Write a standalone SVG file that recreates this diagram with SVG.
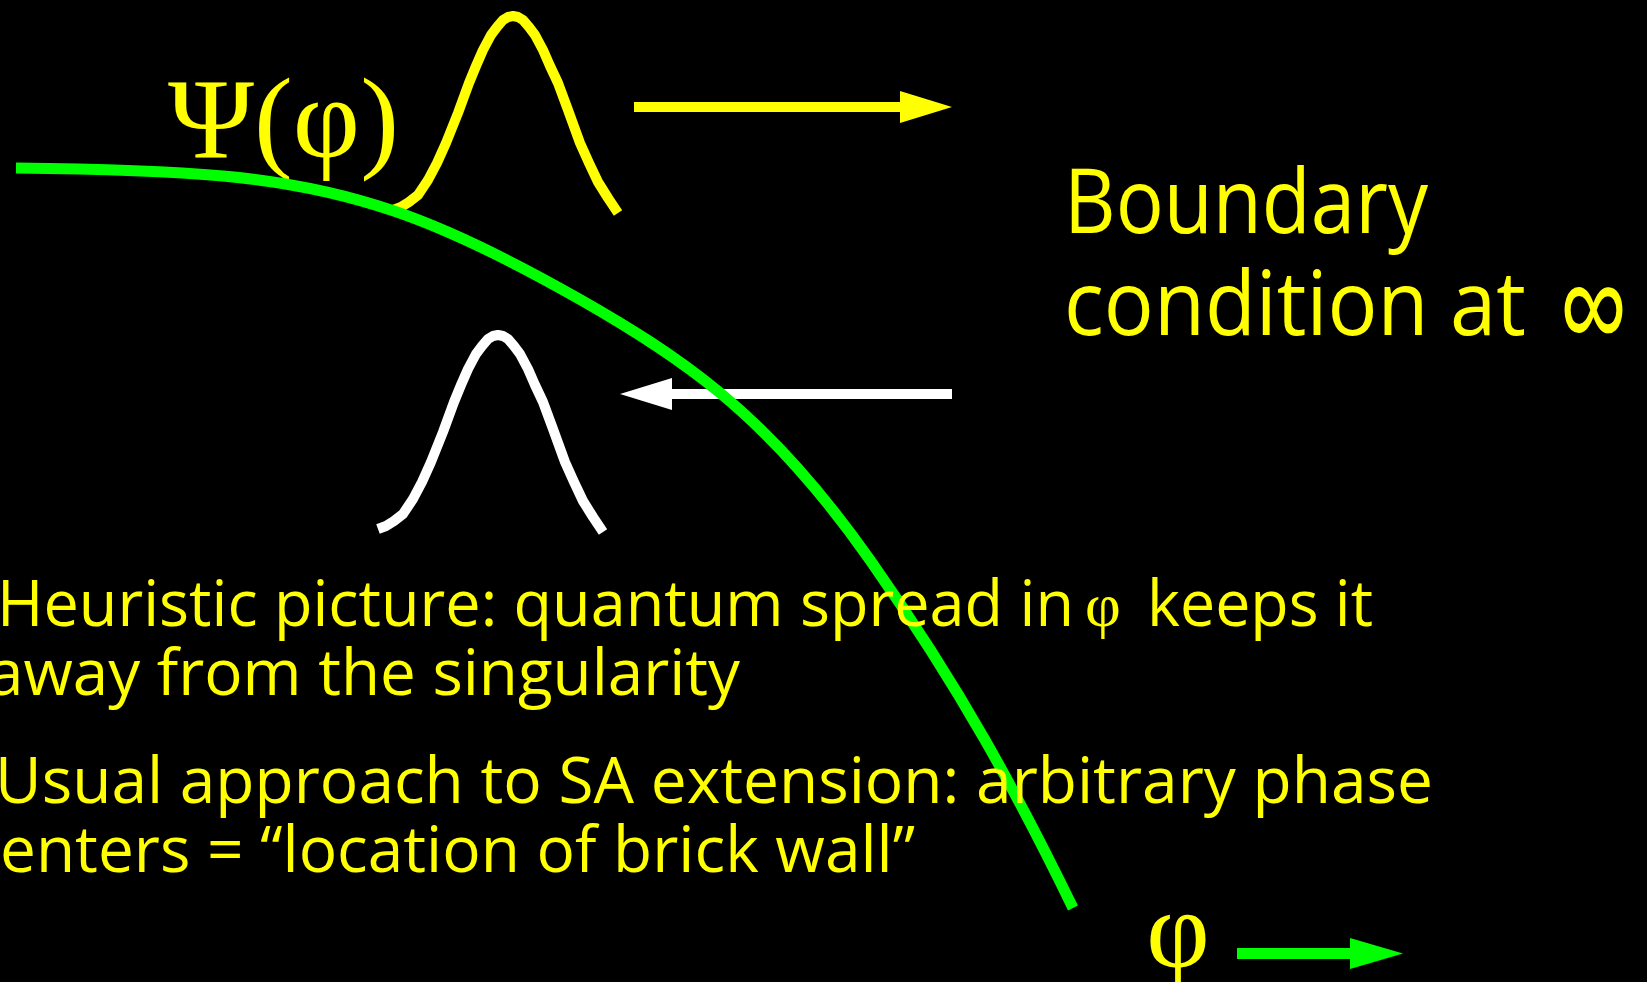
<svg xmlns="http://www.w3.org/2000/svg" xmlns:xlink="http://www.w3.org/1999/xlink" width="1647" height="982" viewBox="0 0 1647 982">
  <style>
    .serif { font-family: "Liberation Serif", "Times New Roman", serif; fill: #FFFF00; }
    .sans { font-family: "Open Sans", "DejaVu Sans", sans-serif; fill: #FFFF00; }
    .body { font-size: 64px; }
    .big { font-size: 90px; }
    .wave { fill: none; stroke-width: 10; stroke-linejoin: round; stroke-linecap: butt; }
    .shaft { fill: none; stroke-width: 10; stroke-linecap: butt; }
  </style>
  <defs>
    <polyline id="gauss" points="393,210 401,207 409,202 418,195 428,180 437,163 446,143 458,113 469,83 476,66 483,50 491,35 497,27 503,20 508,17 513,16 518,17 523,20 529,27 535,35 543,50 550,66 558,83 568,110 580,143 589,163 598,182 608,198 618,213"/>
    <marker id="ah-y" markerUnits="userSpaceOnUse" viewBox="0 0 52 32" markerWidth="52" markerHeight="32" refX="0" refY="16" orient="auto">
      <path d="M0,0 L52,16 L0,32 Z" fill="#FFFF00"/>
    </marker>
    <marker id="ah-w" markerUnits="userSpaceOnUse" viewBox="0 0 52 32" markerWidth="52" markerHeight="32" refX="0" refY="16" orient="auto">
      <path d="M0,0 L52,16 L0,32 Z" fill="#FFFFFF"/>
    </marker>
    <marker id="ah-g" markerUnits="userSpaceOnUse" viewBox="0 0 53 31" markerWidth="53" markerHeight="31" refX="0" refY="15.5" orient="auto">
      <path d="M0,0 L53,15.5 L0,31 Z" fill="#00FF00"/>
    </marker>
  </defs>

  <rect x="0" y="0" width="1647" height="982" fill="#000000"/>

  <g id="psi-label">
    <text class="serif" x="168" y="157" font-size="115" textLength="231" lengthAdjust="spacingAndGlyphs">Ψ(φ)</text>
  </g>

  <g id="wavepacket-outgoing">
    <use xlink:href="#gauss" href="#gauss" class="wave" stroke="#FFFF00"/>
  </g>

  <g id="wavepacket-reflected">
    <use xlink:href="#gauss" href="#gauss" class="wave" stroke="#FFFFFF" transform="translate(-15,319)"/>
  </g>

  <g id="connectors">
    <line class="shaft" x1="634" y1="107" x2="900" y2="107" stroke="#FFFF00" marker-end="url(#ah-y)"/>
    <line class="shaft" x1="952" y1="394" x2="672" y2="394" stroke="#FFFFFF" marker-end="url(#ah-w)"/>
    <line x1="1237" y1="953.5" x2="1350" y2="953.5" stroke="#00FF00" stroke-width="11" marker-end="url(#ah-g)"/>
  </g>

  <g id="potential-curve">
    <path d="M16,168 C85,168.7 154,169.8 223,176 C280,181.1 337,191.6 394,211 C456.3,232.2 518.7,264.5 581,300 C627,326.2 673,354.3 719,392 C769.3,433.3 819.7,488.5 870,560 C908.3,614.4 946.7,673 985,740 C1014.3,791.3 1043.7,847.9 1073,908" fill="none" stroke="#00FF00" stroke-width="11" stroke-linecap="butt"/>
  </g>

  <g id="boundary-label">
    <text class="sans big" x="1064" y="233" textLength="364" lengthAdjust="spacingAndGlyphs">Boundary</text>
    <text class="sans big" y="335"><tspan x="1064" textLength="462" lengthAdjust="spacingAndGlyphs">condition at</tspan> <tspan x="1559" dy="28" font-size="150" textLength="69" lengthAdjust="spacingAndGlyphs">∞</tspan></text>
  </g>

  <g id="heuristic-text">
    <text class="sans body" y="626"><tspan x="-3" textLength="1077" lengthAdjust="spacingAndGlyphs">Heuristic picture: quantum spread in</tspan> <tspan class="serif" x="1085" font-size="62">φ</tspan> <tspan x="1147" textLength="226" lengthAdjust="spacingAndGlyphs">keeps it</tspan></text>
    <text class="sans body" x="-12" y="695" textLength="752" lengthAdjust="spacingAndGlyphs">away from the singularity</text>
  </g>

  <g id="usual-text">
    <text class="sans body" x="-5" y="803" textLength="1438" lengthAdjust="spacingAndGlyphs">Usual approach to SA extension: arbitrary phase</text>
    <text class="sans body" x="0" y="872" textLength="915" lengthAdjust="spacingAndGlyphs">enters = “location of brick wall”</text>
  </g>

  <g id="phi-axis">
    <text class="serif" x="1178" y="967" font-size="110" text-anchor="middle">φ</text>
  </g>
</svg>
